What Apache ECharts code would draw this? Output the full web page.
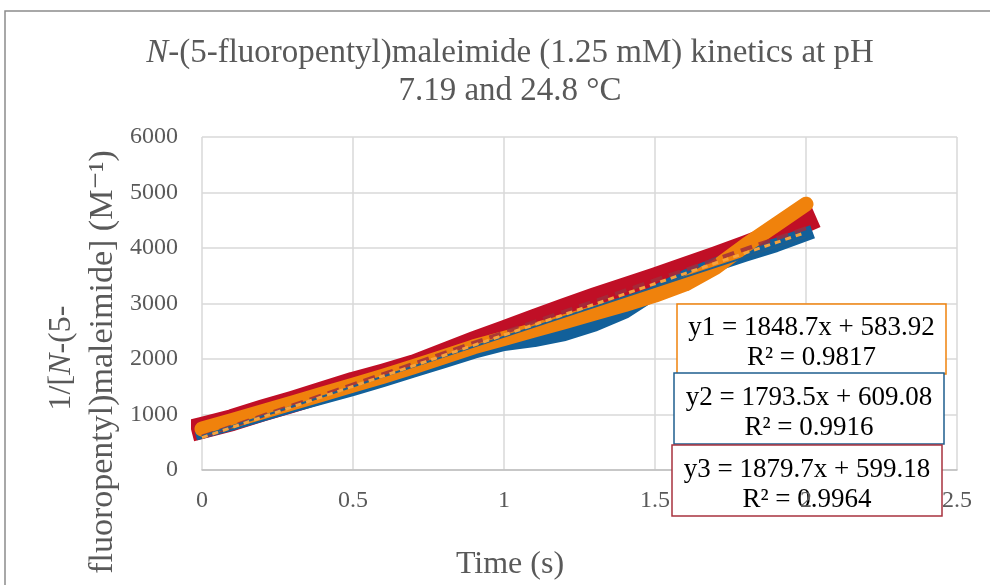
<!DOCTYPE html>
<html>
<head>
<meta charset="utf-8">
<script src="https://cdn.jsdelivr.net/npm/echarts@6/dist/echarts.min.js"></script>
<style>
	html, body { margin: 0; padding: 0; background: #fff; }
	#main { width: 990px; height: 585px; }
</style>
</head>
<body>
<div id="main"></div>
<script>
// time points (s)
var times = [0, 0.1, 0.2, 0.3, 0.4, 0.5, 0.6, 0.7, 0.8, 0.9, 1.0, 1.1, 1.2, 1.3, 1.4, 1.5, 1.6, 1.7, 1.8, 1.9, 2.0];
// 1/[maleimide] (M-1)
var run3 = [760, 900, 1070, 1230, 1400, 1570, 1720, 1880, 2090, 2300, 2500, 2700, 2900, 3090, 3270, 3450, 3640, 3830, 4030, 4240, 4480];
var run2 = [690, 840, 1000, 1160, 1310, 1460, 1620, 1790, 1960, 2130, 2270, 2340, 2450, 2620, 2850, 3200, 3480, 3700, 3880, 4050, 4250];
var run1 = [740, 890, 1050, 1210, 1370, 1530, 1690, 1860, 2040, 2220, 2370, 2520, 2670, 2830, 2980, 3150, 3350, 3650, 4050, 4420, 4790];
// trendline ends [t=0, t=2]
var trendT = [0, 2.0];
var trend1 = [584, 4281];
var trend2 = [609, 4196];
var trend3 = [599, 4358];
var xTicks = [0, 0.5, 1, 1.5, 2, 2.5];
var eqs = [
	['y1 = 1848.7x + 583.92', 'R\u00b2 = 0.9817'],
	['y2 = 1793.5x + 609.08', 'R\u00b2 = 0.9916'],
	['y3 = 1879.7x + 599.18', 'R\u00b2 = 0.9964']
];

function pairs(xs, ys) {
	var out = [];
	for (var i = 0; i < xs.length; i++) {
		out.push([xs[i], ys[i]]);
	}
	return out;
}

var serif = '"Liberation Serif", "DejaVu Serif", serif';
var grey = '#595959';

var chart = echarts.init(document.getElementById('main'));

function band(name, data, color, width, cap) {
	return {
		name: name,
		type: 'line',
		data: data,
		showSymbol: false,
		symbol: 'none',
		lineStyle: { color: color, width: width, cap: cap, join: 'round' },
		silent: true,
		animation: false,
		z: 2
	};
}

function trend(name, data, color, width, dash, z) {
	return {
		name: name,
		type: 'line',
		data: data,
		symbol: 'none',
		lineStyle: { color: color, width: width, type: dash },
		silent: true,
		animation: false,
		z: z
	};
}

function eqBox(x, y, w, h, color, lines) {
	return {
		type: 'group',
		z: 5,
		children: [
			{
				type: 'rect',
				shape: { x: x, y: y, width: w, height: h },
				style: { fill: '#fff', stroke: color, lineWidth: 1.5 },
				z: 5
			},
			{
				type: 'text',
				x: x + w / 2,
				y: y + h / 2 + 4,
				z: 6,
				style: {
					text: lines.join('\n'),
					align: 'center',
					verticalAlign: 'middle',
					fontFamily: serif,
					fontSize: 27,
					lineHeight: 30,
					fill: '#000'
				}
			}
		]
	};
}

var option = {
	animation: false,
	title: {
		text: '{i|N}-(5-fluoropentyl)maleimide (1.25 mM) kinetics at pH\n7.19 and 24.8 \u00b0C',
		left: 505,
		textAlign: 'center',
		top: 29,
		textStyle: {
			fontFamily: serif,
			fontSize: 33,
			fontWeight: 'normal',
			color: grey,
			lineHeight: 38,
			rich: {
				i: { fontFamily: serif, fontSize: 33, fontStyle: 'italic', color: grey, lineHeight: 38 }
			}
		}
	},
	grid: { left: 202, right: 33, top: 137, bottom: 115, containLabel: false },
	xAxis: [{
		type: 'value',
		min: 0,
		max: 2.5,
		interval: 0.5,
		position: 'bottom',
		axisLine: { onZero: false, lineStyle: { color: '#bfbfbf', width: 1.5 } },
		axisTick: { show: false },
		axisLabel: { show: false },
		splitLine: { lineStyle: { color: '#d9d9d9', width: 1.5 } }
	}, {
		type: 'value',
		min: 0,
		max: 2.5,
		interval: 0.5,
		position: 'bottom',
		z: 10,
		axisLine: { show: false },
		axisTick: { show: false },
		splitLine: { show: false },
		axisLabel: {
			margin: 19,
			fontFamily: serif,
			fontSize: 24,
			color: grey,
			formatter: function (v) { return xTicks.indexOf(v) >= 0 ? String(v) : ''; }
		}
	}],
	yAxis: {
		type: 'value',
		min: 0,
		max: 6000,
		interval: 1000,
		axisLine: { show: false },
		axisTick: { show: false },
		axisLabel: {
			margin: 24,
			fontFamily: serif,
			fontSize: 24,
			color: grey,
			formatter: function (v) { return String(v); }
		},
		splitLine: { lineStyle: { color: '#d9d9d9', width: 1.5 } }
	},
	series: [
		band('run 3', pairs(times, run3), '#c00f26', 22, 'square'),
		band('run 2', pairs(times, run2), '#12609a', 14, 'square'),
		band('run 1', pairs(times, run1), '#f0820c', 15, 'round'),
		trend('trend 3', pairs(trendT, trend3), 'rgba(160,45,60,0.85)', 4, [12, 7], 3),
		trend('trend 2', pairs(trendT, trend2), '#1f5f8f', 2, 'solid', 4),
		trend('trend 1', pairs(trendT, trend1), '#f7a23c', 3, [6, 5], 5)
	],
	graphic: {
		elements: [
			{
				type: 'rect',
				shape: { x: 5, y: 11, width: 1000, height: 600 },
				style: { fill: 'none', stroke: '#8c8c8c', lineWidth: 1.5 },
				silent: true,
				z: 0
			},
			eqBox(677, 304, 269, 70, '#f0820c', eqs[0]),
			eqBox(674, 373, 270, 71, '#1f5f8f', eqs[1]),
			eqBox(672, 445, 270, 71, '#a8323e', eqs[2]),
			{
				type: 'text',
				x: 510,
				y: 565,
				style: {
					text: 'Time (s)',
					align: 'center',
					verticalAlign: 'middle',
					fontFamily: serif,
					fontSize: 32,
					fill: grey
				}
			},
			{
				type: 'text',
				x: 62,
				y: 358,
				rotation: Math.PI / 2,
				style: {
					text: '{a|1/[}{i|N}{a|-(5-}',
					align: 'center',
					verticalAlign: 'middle',
					rich: {
						a: { fontFamily: serif, fontSize: 32, fill: grey },
						i: { fontFamily: serif, fontSize: 32, fontStyle: 'italic', fill: grey }
					}
				}
			},
			{
				type: 'text',
				x: 103,
				y: 362,
				rotation: Math.PI / 2,
				style: {
					text: 'fluoropentyl)maleimide] (M\u207b\u00b9)',
					align: 'center',
					verticalAlign: 'middle',
					fontFamily: serif,
					fontSize: 34,
					fill: grey
				}
			}
		]
	}
};

chart.setOption(option);
</script>
</body>
</html>
